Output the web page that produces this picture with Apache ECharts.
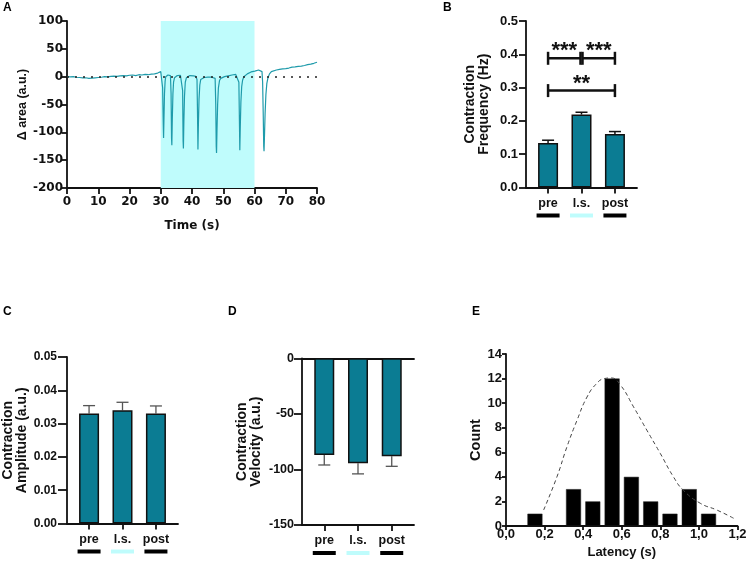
<!DOCTYPE html>
<html><head><meta charset="utf-8">
<script src="https://cdn.jsdelivr.net/npm/echarts@6/dist/echarts.min.js"></script>
<style>html,body{margin:0;padding:0;background:#fff}#c{width:747px;height:562px}</style>
</head><body><div id="c"></div>
<script>
// ---------- Panel A: trace ----------
const traceT = [0,0.5,1,1.5,2,2.5,3,3.5,4,4.5,5,5.5,6,6.5,7,7.5,8,8.5,9,9.5,10,11,12,13,14,15,16,17,18,19,20,21,22,23,24,25,26,27,28,28.5,29,29.5,30,30.4,
30.6,30.8,30.9,31.05,31.2,31.4,31.6,31.9,32.3,32.7,33.1,
33.3,33.45,33.55,33.7,33.9,34.1,34.4,34.8,35.3,35.8,36.3,36.8,
37.0,37.15,37.25,37.4,37.6,37.85,38.2,38.7,39.3,39.9,40.5,41.2,41.6,
41.75,41.9,42.05,42.25,42.5,42.8,43.3,43.9,44.5,45.1,45.7,46.3,46.9,47.4,
47.6,47.75,47.85,48.0,48.2,48.45,48.8,49.2,49.8,50.4,51,51.6,52.2,52.8,53.4,54,54.6,55.0,
55.15,55.3,55.45,55.65,55.9,56.2,56.6,57.1,57.7,58.3,58.9,59.5,60.1,60.7,61.3,61.9,62.4,
62.6,62.8,62.95,63.05,63.2,63.4,63.65,63.95,64.3,64.8,65.4,66,67,68,69,70,71,72,73,74,75,76,77,78,79,80];
const traceArea = [0,0.5,-0.5,0.8,0,-0.5,-1,-0.5,-1.5,-1,-2,-2.5,-2,-3.5,-3,-4,-2.5,-3,-2,-2.5,-1.5,-1,0,-0.5,0.5,1,0.5,1.5,2,1.5,2.5,3,2,3.5,3,4,3.5,4.5,5,6,6.5,8,9,7,
-20,-85,-110,-70,-30,-8,0,2,3,2.5,2,
-30,-110,-123,-75,-30,-10,-2,1,2,1.5,2.5,1.5,
-25,-115,-129,-80,-35,-10,-2,1,2,1,1.5,0.5,-5,
-60,-131,-85,-40,-15,-5,-2,-1.5,-2.5,-1,-2,-1,-0.5,-3,
-50,-125,-137,-95,-50,-20,-7,-3,-1,0,1,1.5,2.5,3,3.5,4,3,-10,
-70,-132,-90,-45,-18,-6,0,3,5,7,8.5,9,10,11,12,11.5,9,
-10,-70,-125,-134,-105,-65,-32,-12,-2,5,9,10.5,12,13,14,14.5,15.5,17,17.5,18.5,19,20,21.5,22.5,24,26];
const stimStart = 30, stimEnd = 60;

// ---------- Panels B, C, D ----------
const groups = ['pre', 'l.s.', 'post'];
const groupX = [1, 2, 3];
const freqMean = [0.134, 0.219, 0.161];
const freqErr = [0.008, 0.007, 0.007];
const ampMean = [0.033, 0.034, 0.033];
const ampErr = [0.0024, 0.0024, 0.0023];
const velMean = [-87, -94.5, -88.2];
const velErr = [-9, -9.5, -9];
const sigX1 = [1, 2.03, 1];
const sigX2 = [1.97, 3, 3];
const sigY = [0.388, 0.388, 0.291];
const sigText = ['***', '***', '**'];

// ---------- Panel E ----------
const latencyBins = [0.15, 0.35, 0.45, 0.55, 0.65, 0.75, 0.85, 0.95, 1.05];
const latencyCounts = [1, 3, 2, 12, 4, 2, 1, 3, 1];
const fitLatency = [0.195,0.264,0.316,0.368,0.42,0.47,0.51,0.545,0.592,0.661,0.73,0.8,0.868,0.92,1.007,1.093,1.18];
const fitCount = [1.3,4.0,6.45,8.6,10.5,11.6,12.0,12.05,11.5,9.7,7.8,5.9,4.0,2.9,1.85,1.3,0.63];

const FONT = '"Liberation Sans", Arial, sans-serif';
const FONT_W = '"DejaVu Sans", sans-serif';
const BLACK = '#111';
const TEAL = '#0b7c93';
const CYAN = '#bffcfc';
const LINE = {color: BLACK, width: 1.8};

const chart = echarts.init(document.getElementById('c'), null, {renderer: 'canvas'});

function catAxis(gridIndex, extra) {
  return Object.assign({
    type: 'value', gridIndex, min: 0.34, max: 3.66,
    splitLine: {show: false},
    axisLine: {show: true, onZero: false, lineStyle: LINE},
    axisTick: {show: true, customValues: groupX, length: 6, lineStyle: LINE},
    axisLabel: {
      customValues: groupX, margin: 6,
      formatter: v => { const i = Math.round(v) - 1; return '{t|' + groups[i] + '}\n{k' + i + '| }'; },
      rich: {
        t: {fontFamily: FONT, fontSize: 12.5, fontWeight: 'bold', color: BLACK, lineHeight: 20},
        k0: {width: 23, height: 4, backgroundColor: '#000'},
        k1: {width: 23, height: 4, backgroundColor: CYAN},
        k2: {width: 23, height: 4, backgroundColor: '#000'}
      }
    }
  }, extra || {});
}

function valAxis(gridIndex, o) {
  return Object.assign({
    type: 'value', gridIndex,
    splitLine: {show: false},
    axisLine: {show: true, onZero: false, lineStyle: LINE},
    axisTick: {show: true, length: 7, lineStyle: LINE},
    nameLocation: 'middle',
    nameTextStyle: {fontFamily: FONT, fontSize: 14, fontWeight: 'bold', color: BLACK, lineHeight: 14}
  }, o);
}

function errRender(color, width) {
  return function (params, api) {
    const x = api.value(0), y = api.value(1), e = api.value(2);
    const p0 = api.coord([x, y]), p1 = api.coord([x, y + e]);
    return {type: 'group', children: [
      {type: 'line', shape: {x1: p0[0], y1: p0[1], x2: p1[0], y2: p1[1]}, style: {stroke: color, lineWidth: width}},
      {type: 'line', shape: {x1: p1[0] - 6, y1: p1[1], x2: p1[0] + 6, y2: p1[1]}, style: {stroke: color, lineWidth: width}}
    ]};
  };
}

const barStyle = {color: TEAL, borderColor: BLACK, borderWidth: 1.5};

const option = {
  animation: false,
  textStyle: {fontFamily: FONT},
  grid: [
    {left: 67, top: 21, width: 250, height: 167, outerBoundsMode: 'none'},
    {left: 526, top: 21, width: 111, height: 166.5, outerBoundsMode: 'none'},
    {left: 67, top: 357, width: 111, height: 166.5, outerBoundsMode: 'none'},
    {left: 302, top: 358.3, width: 112, height: 166.7, outerBoundsMode: 'none'},
    {left: 506, top: 354, width: 231.5, height: 172, outerBoundsMode: 'none'}
  ],
  xAxis: [
    {type: 'value', gridIndex: 0, min: 0, max: 80, interval: 10, splitLine: {show: false},
     axisLine: {onZero: false, lineStyle: LINE}, axisTick: {length: 6, lineStyle: LINE},
     axisLabel: {margin: 8, fontFamily: FONT_W, fontSize: 12, fontWeight: 'bold', color: BLACK},
     name: 'Time (s)', nameLocation: 'middle', nameGap: 32,
     nameTextStyle: {fontFamily: FONT_W, fontSize: 12, fontWeight: 'bold', color: BLACK}},
    catAxis(1),
    catAxis(2),
    catAxis(3),
    {type: 'value', gridIndex: 3, position: 'top', min: 0.34, max: 3.66, splitLine: {show: false},
     axisLine: {show: true, onZero: false, lineStyle: LINE}, axisTick: {show: false}, axisLabel: {show: false}},
    {type: 'value', gridIndex: 4, min: 0, max: 1.2, interval: 0.2, splitLine: {show: false},
     axisLine: {onZero: false, lineStyle: LINE}, axisTick: {length: 4, lineStyle: LINE},
     axisLabel: {margin: 2, fontSize: 13, fontWeight: 'bold', color: BLACK,
       formatter: v => v.toFixed(1).replace('.', ',')},
     name: 'Latency (s)', nameLocation: 'middle', nameGap: 20,
     nameTextStyle: {fontSize: 13, fontWeight: 'bold', color: BLACK}}
  ],
  yAxis: [
    valAxis(0, {min: -200, max: 100, interval: 50, axisTick: {length: 5, lineStyle: LINE},
      axisLabel: {margin: 4, fontFamily: FONT_W, fontSize: 12, fontWeight: 'bold', color: BLACK},
      name: 'Δ area (a.u.)', nameGap: 36,
      nameTextStyle: {fontFamily: FONT, fontSize: 12.5, fontWeight: 'bold', color: BLACK}}),
    valAxis(1, {min: 0, max: 0.5, interval: 0.1,
      axisLabel: {margin: 8, fontSize: 13, fontWeight: 'bold', color: BLACK, formatter: v => v.toFixed(1)},
      name: 'Contraction\nFrequency (Hz)', nameGap: 35}),
    valAxis(2, {min: 0, max: 0.05, interval: 0.01, axisTick: {length: 9, lineStyle: LINE},
      axisLabel: {margin: 10, fontSize: 12, fontWeight: 'bold', color: BLACK, formatter: v => v.toFixed(2)},
      name: 'Contraction\nAmplitude (a.u.)', nameGap: 38}),
    valAxis(3, {min: -150, max: 0, interval: 50, axisTick: {length: 8, lineStyle: LINE},
      axisLabel: {margin: 8, fontSize: 12.5, fontWeight: 'bold', color: BLACK},
      name: 'Contraction\nVelocity (a.u.)', nameGap: 39}),
    valAxis(4, {min: 0, max: 14, interval: 2, axisTick: {length: 4, lineStyle: LINE},
      axisLabel: {margin: 4, fontSize: 13, fontWeight: 'bold', color: BLACK},
      name: 'Count', nameGap: 21,
      nameTextStyle: {fontFamily: FONT, fontSize: 14.5, fontWeight: 'bold', color: BLACK}})
  ],
  graphic: [
    {type: 'text', left: 3, top: 2, style: {text: 'A', font: 'bold 12px ' + FONT, fill: '#000'}},
    {type: 'text', left: 443, top: 2, style: {text: 'B', font: 'bold 12px ' + FONT, fill: '#000'}},
    {type: 'text', left: 3, top: 306, style: {text: 'C', font: 'bold 12px ' + FONT, fill: '#000'}},
    {type: 'text', left: 228, top: 306, style: {text: 'D', font: 'bold 12px ' + FONT, fill: '#000'}},
    {type: 'text', left: 472, top: 306, style: {text: 'E', font: 'bold 12px ' + FONT, fill: '#000'}}
  ],
  series: [
    {type: 'line', xAxisIndex: 0, yAxisIndex: 0, showSymbol: false, symbol: 'none',
     data: traceT.map((t, i) => [t, traceArea[i]]),
     lineStyle: {color: '#1f9bab', width: 1.2}, z: 3,
     markArea: {silent: true, itemStyle: {color: CYAN, opacity: 1},
       data: [[{xAxis: stimStart}, {xAxis: stimEnd}]]},
     markLine: {silent: true, symbol: 'none', label: {show: false},
       lineStyle: {color: '#222', type: [2, 6], width: 1.5},
       data: [[{coord: [0, 0]}, {coord: [80, 0]}]]}},
    // B
    {type: 'bar', xAxisIndex: 1, yAxisIndex: 1, barWidth: 20, itemStyle: barStyle,
     data: groupX.map((x, i) => [x, freqMean[i]])},
    {type: 'custom', xAxisIndex: 1, yAxisIndex: 1, renderItem: errRender('#111', 1.5), z: 1,
     data: groupX.map((x, i) => [x, freqMean[i], freqErr[i]])},
    {type: 'custom', xAxisIndex: 1, yAxisIndex: 1, z: 5,
     data: sigY.map((y, i) => [sigX1[i], y, sigX2[i]]),
     renderItem: function (params, api) {
       const i = params.dataIndex;
       const a = api.coord([sigX1[i], sigY[i]]), b = api.coord([sigX2[i], sigY[i]]);
       const st = {stroke: '#111', lineWidth: 2.5};
       return {type: 'group', children: [
         {type: 'line', shape: {x1: a[0], y1: a[1], x2: b[0], y2: b[1]}, style: st},
         {type: 'line', shape: {x1: a[0], y1: a[1] - 6.5, x2: a[0], y2: a[1] + 6.5}, style: st},
         {type: 'line', shape: {x1: b[0], y1: b[1] - 6.5, x2: b[0], y2: b[1] + 6.5}, style: st},
         {type: 'text', x: (a[0] + b[0]) / 2, y: a[1] - 7, style: {text: sigText[i], align: 'center', verticalAlign: 'middle',
           font: 'bold 22px ' + FONT, fill: '#111'}}
       ]};
     }},
    // C
    {type: 'bar', xAxisIndex: 2, yAxisIndex: 2, barWidth: 20, itemStyle: barStyle,
     data: groupX.map((x, i) => [x, ampMean[i]])},
    {type: 'custom', xAxisIndex: 2, yAxisIndex: 2, renderItem: errRender('#555', 1.3), z: 1,
     data: groupX.map((x, i) => [x, ampMean[i], ampErr[i]])},
    // D
    {type: 'bar', xAxisIndex: 3, yAxisIndex: 3, barWidth: 20, itemStyle: barStyle,
     data: groupX.map((x, i) => [x, velMean[i]])},
    {type: 'custom', xAxisIndex: 3, yAxisIndex: 3, renderItem: errRender('#555', 1.3), z: 1,
     data: groupX.map((x, i) => [x, velMean[i], velErr[i]])},
    // E
    {type: 'bar', xAxisIndex: 5, yAxisIndex: 4, barWidth: 15,
     itemStyle: {color: '#000', borderColor: '#222', borderWidth: 0.5},
     data: latencyBins.map((x, i) => [x, latencyCounts[i]])},
    {type: 'line', xAxisIndex: 5, yAxisIndex: 4, smooth: true, showSymbol: false, symbol: 'none', z: 4,
     lineStyle: {color: '#444', width: 1, type: [4, 3]},
     data: fitLatency.map((x, i) => [x, fitCount[i]])}
  ]
};
chart.setOption(option);
</script>
</body></html>
